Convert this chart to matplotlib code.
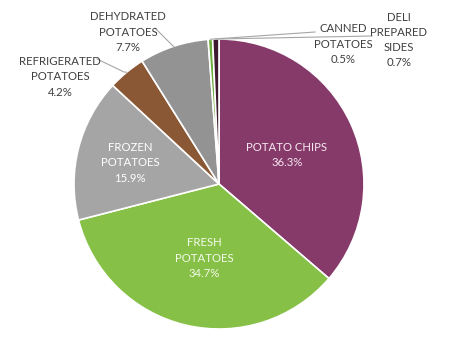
import numpy as np
import matplotlib.pyplot as plt

# segment shares, clockwise from 12 o'clock
names = ['POTATO CHIPS', 'FRESH\nPOTATOES', 'FROZEN\nPOTATOES', 'REFRIGERATED\nPOTATOES',
         'DEHYDRATED\nPOTATOES', 'CANNED\nPOTATOES', 'DELI\nPREPARED\nSIDES']
shares = [36.3, 34.7, 15.9, 4.2, 7.7, 0.5, 0.7]
colors = ['#863A6A', '#86C046', '#A5A5A5', '#8B5835', '#939393', '#6DAE3F', '#3E1A31']

# label anchors in pixel space (x from left, y from top) and text colour
label_pos = [(287, 155), (204, 258), (130, 163), (60, 77), (128, 32), (343, 44), (399, 40)]
label_col = ['#F6E8F1', '#F4FAEC', '#FFFFFF', '#404040', '#404040', '#404040', '#404040']
# elbow points for the leader lines (outside labels only)
leader_end = {3: (124, 72), 4: (173, 46), 5: (315, 32), 6: (372, 36)}
leader_mid = {3: (97, 59), 4: (155, 28)}

W, H = 460, 340
cx, cy, r = 219, H - 184, 145

plt.rcParams['font.family'] = ['Lato', 'DejaVu Sans']
fig = plt.figure(figsize=(W / 100, H / 100), dpi=100)
ax = fig.add_axes([0, 0, 1, 1])

wedges, _ = ax.pie(shares, colors=colors, startangle=90, counterclock=False,
                   center=(cx, cy), radius=r, frame=True,
                   wedgeprops=dict(edgecolor='white', linewidth=1.2))
ax.set_xlim(0, W)
ax.set_ylim(0, H)
ax.set_aspect('equal')
ax.axis('off')

for i, (name, val) in enumerate(zip(names, shares)):
    x, y = label_pos[i]
    ax.text(x, H - y, f'{name}\n{val}%', ha='center', va='center',
            color=label_col[i], fontsize=8.2, linespacing=1.45)

# leader lines from wedge rim to the outside labels
for i, end in leader_end.items():
    w = wedges[i]
    ang = np.deg2rad((w.theta1 + w.theta2) / 2)
    sx, sy = cx + r * np.cos(ang), cy + r * np.sin(ang)
    xs, ys = [sx, end[0]], [sy, H - end[1]]
    if i in leader_mid:
        xs.append(leader_mid[i][0])
        ys.append(H - leader_mid[i][1])
    ax.plot(xs, ys, color='#A6A6A6', lw=0.8)

fig.savefig('out.png', dpi=100, facecolor='white')
